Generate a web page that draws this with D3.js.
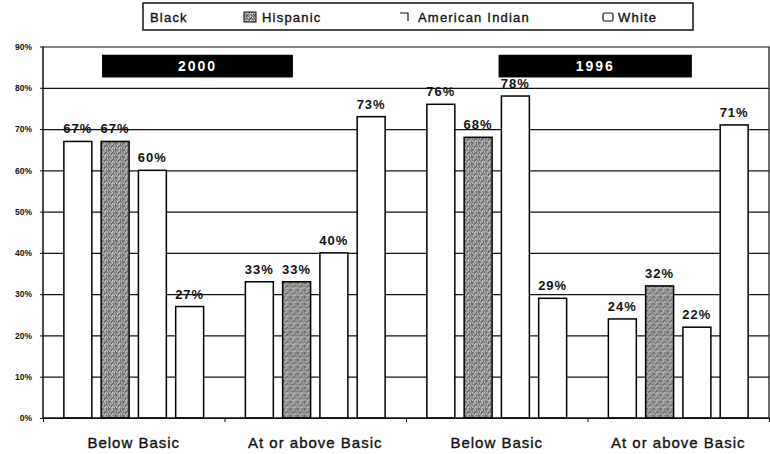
<!DOCTYPE html>
<html>
<head>
<meta charset="utf-8">
<script src="https://cdn.jsdelivr.net/npm/d3@7"></script>
<style>
  body { margin: 0; background: #fff; }
  svg { display: block; font-family: "Liberation Sans", Arial, sans-serif; }
  .axis path { display: none; }
</style>
</head>
<body>
<svg width="770" height="454"></svg>
<script>
// data
var categories = ["Below Basic", "At or above Basic", "Below Basic", "At or above Basic"];
var series = ["Black", "Hispanic", "American Indian", "White"];
var black = [67, 33, 76, 24];
var hispanic = [67, 33, 68, 32];
var americanIndian = [60, 40, 78, 22];
var white = [27, 73, 29, 71];
var yTicks = [0, 10, 20, 30, 40, 50, 60, 70, 80, 90];
var yearLabels = ["2000", "1996"];

var values = [black, hispanic, americanIndian, white];

var svg = d3.select("svg"),
    margin = {top: 46.5, right: 1, bottom: 36, left: 43},
    width = +svg.attr("width") - margin.left - margin.right,
    height = +svg.attr("height") - margin.top - margin.bottom;

// Hispanic stipple pattern
var defs = svg.append("defs");
var pat = defs.append("pattern")
    .attr("id", "stipple")
    .attr("width", 7).attr("height", 7)
    .attr("patternUnits", "userSpaceOnUse");
pat.append("rect").attr("width", 7).attr("height", 7).attr("fill", "#9a9a9a");
[[0,0,"#333"],[3,1,"#555"],[1,2,"#666"],[5,2,"#2a2a2a"],[2,4,"#444"],[4,4,"#777"],[0,5,"#555"],
 [4,0,"#e6e6e6"],[1,3,"#ddd"],[3,5,"#3a3a3a"],[5,4,"#ccc"],[6,1,"#444"],[6,6,"#d8d8d8"],
 [2,6,"#555"],[6,3,"#eee"],[1,0,"#bbb"],[4,6,"#666"],[3,3,"#c8c8c8"]]
  .forEach(function(p) {
    pat.append("rect").attr("x", p[0]).attr("y", p[1]).attr("width", 1).attr("height", 1).attr("fill", p[2]);
  });

var fills = ["#fff", "url(#stipple)", "#fff", "#fff"];

var x0 = d3.scaleBand().domain(d3.range(categories.length)).range([0, width]).padding(0);
var x1 = d3.scaleBand().domain(d3.range(series.length)).range([0, x0.bandwidth()])
    .paddingInner(0.25).paddingOuter(0.56);
var xEdge = d3.scaleLinear().domain([0, categories.length]).range([0, width]);
var y = d3.scaleLinear().domain([0, 90]).range([height, 0]);

var g = svg.append("g").attr("transform", "translate(" + margin.left + "," + margin.top + ")");

// gridlines
g.append("g")
    .attr("class", "axis grid")
    .call(d3.axisLeft(y).tickValues(yTicks).tickSize(-width).tickFormat(""))
    .selectAll("line").attr("stroke", "#111").attr("stroke-width", 1.2);

// year banners (in category units)
var bannerSpans = [[0.325, 1.377], [2.51, 3.575]];
var banner = g.selectAll(".banner").data(yearLabels).enter().append("g").attr("class", "banner");
banner.append("rect")
    .attr("x", function(d, i) { return xEdge(bannerSpans[i][0]); })
    .attr("width", function(d, i) { return xEdge(bannerSpans[i][1]) - xEdge(bannerSpans[i][0]); })
    .attr("y", y(88))
    .attr("height", y(82.5) - y(88))
    .attr("fill", "#000");
banner.append("text")
    .attr("x", function(d, i) { return xEdge((bannerSpans[i][0] + bannerSpans[i][1]) / 2); })
    .attr("y", y(82.5) - 6)
    .attr("text-anchor", "middle")
    .attr("fill", "#fff")
    .attr("font-size", 14)
    .attr("font-weight", "bold")
    .attr("letter-spacing", 2)
    .text(function(d) { return d; });

// bars
var group = g.selectAll(".cat").data(categories).enter().append("g")
    .attr("class", "cat")
    .attr("transform", function(d, i) { return "translate(" + x0(i) + ",0)"; });

var cells = group.selectAll(".bar")
    .data(function(d, ci) { return series.map(function(s, si) { return {si: si, v: values[si][ci]}; }); })
    .enter();

cells.append("rect")
    .attr("class", "bar")
    .attr("x", function(d) { return x1(d.si); })
    .attr("width", x1.bandwidth())
    .attr("y", function(d) { return y(d.v); })
    .attr("height", function(d) { return y(0) - y(d.v); })
    .attr("fill", function(d) { return fills[d.si]; })
    .attr("stroke", "#000")
    .attr("stroke-width", 1.5);

cells.append("text")
    .attr("x", function(d) { return x1(d.si) + x1.bandwidth() / 2; })
    .attr("y", function(d) { return y(d.v) - 8; })
    .attr("text-anchor", "middle")
    .attr("font-size", 13)
    .attr("font-weight", "bold")
    .attr("letter-spacing", 1)
    .attr("fill", "#111")
    .text(function(d) { return d.v + "%"; });

// right border
g.append("line")
    .attr("x1", width).attr("x2", width)
    .attr("y1", 0).attr("y2", height)
    .attr("stroke", "#111").attr("stroke-width", 1.2);

// y axis
var yAxis = g.append("g")
    .attr("class", "axis")
    .call(d3.axisLeft(y).tickValues(yTicks).tickSize(3).tickPadding(8).tickFormat(function(d) { return d + "%"; }));
yAxis.selectAll("text").attr("font-size", 8.5).attr("font-weight", "bold").attr("fill", "#111");
yAxis.selectAll("line").attr("stroke", "#111");
g.append("line")
    .attr("x1", 0).attr("x2", 0).attr("y1", 0).attr("y2", height)
    .attr("stroke", "#111").attr("stroke-width", 1.5);

// x axis baseline + boundary ticks
var xTicks = g.append("g")
    .attr("class", "axis")
    .attr("transform", "translate(0," + height + ")")
    .call(d3.axisBottom(xEdge).tickValues(d3.range(categories.length + 1)).tickSize(4).tickFormat(""));
xTicks.selectAll("line").attr("stroke", "#111");
g.append("line")
    .attr("x1", 0).attr("x2", width).attr("y1", height).attr("y2", height)
    .attr("stroke", "#111").attr("stroke-width", 1.5);

// category labels
var xLab = g.append("g")
    .attr("class", "axis")
    .attr("transform", "translate(0," + height + ")")
    .call(d3.axisBottom(x0).tickSize(0).tickPadding(19).tickFormat(function(i) { return categories[i]; }));
xLab.selectAll("text").attr("font-size", 15).attr("letter-spacing", 1).attr("fill", "#111")
    .attr("stroke", "#111").attr("stroke-width", 0.35);

// legend
var legend = svg.append("g").attr("transform", "translate(143,3)");
legend.append("rect")
    .attr("width", 550).attr("height", 27)
    .attr("fill", "#fff").attr("stroke", "#111").attr("stroke-width", 1.5);
var legendX = [7, 101, 257, 460];
var textX = [0, 18, 18, 15];
var item = legend.selectAll(".item").data(series).enter().append("g")
    .attr("class", "item")
    .attr("transform", function(d, i) { return "translate(" + legendX[i] + ",0)"; });
item.filter(function(d, i) { return i === 1; }).append("rect")
    .attr("x", 0).attr("y", 9).attr("width", 12).attr("height", 10)
    .attr("fill", "url(#stipple)").attr("stroke", "#111").attr("stroke-width", 1);
item.filter(function(d, i) { return i === 2; }).append("path")
    .attr("d", "M0,10H8V18")
    .attr("fill", "none").attr("stroke", "#111").attr("stroke-width", 1.2);
item.filter(function(d, i) { return i === 3; }).append("rect")
    .attr("x", 0).attr("y", 10).attr("width", 10).attr("height", 8).attr("rx", 1.5)
    .attr("fill", "#fff").attr("stroke", "#111").attr("stroke-width", 1.2);
item.append("text")
    .attr("x", function(d, i) { return textX[i]; })
    .attr("y", 19)
    .attr("font-size", 13)
    .attr("letter-spacing", 1.2)
    .attr("fill", "#111")
    .attr("stroke", "#111")
    .attr("stroke-width", 0.35)
    .text(function(d) { return d; });
</script>
</body>
</html>
